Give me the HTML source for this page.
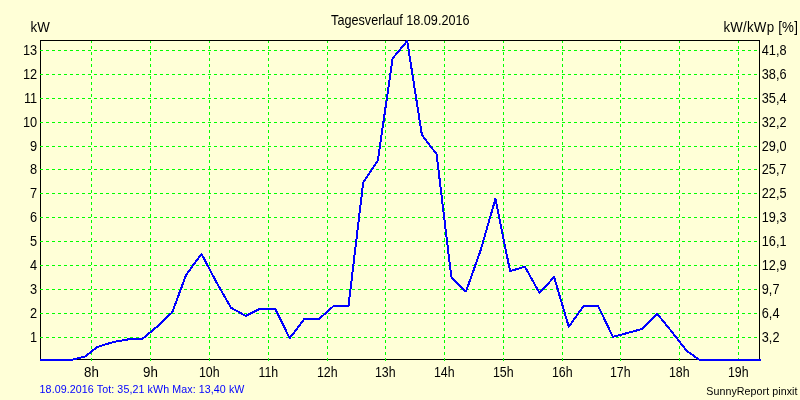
<!DOCTYPE html>
<html><head><meta charset="utf-8"><title>Tagesverlauf 18.09.2016</title>
<style>
html,body{margin:0;padding:0;background:#FFFFD7;}
svg{display:block;will-change:transform;}
text{font-family:"Liberation Sans",sans-serif;fill:#000;}
</style></head><body>
<svg width="800" height="400" viewBox="0 0 800 400">
<rect x="0" y="0" width="800" height="400" fill="#FFFFD7"/>
<rect x="40.5" y="40.5" width="719" height="319" fill="none" stroke="#000" stroke-width="1" shape-rendering="crispEdges"/>
<g shape-rendering="crispEdges" stroke="#00FF00" stroke-width="1" stroke-dasharray="3 3" fill="none">
<line x1="40" y1="337.5" x2="760" y2="337.5"/>
<line x1="40" y1="313.5" x2="760" y2="313.5"/>
<line x1="40" y1="289.5" x2="760" y2="289.5"/>
<line x1="40" y1="265.5" x2="760" y2="265.5"/>
<line x1="40" y1="241.5" x2="760" y2="241.5"/>
<line x1="40" y1="217.5" x2="760" y2="217.5"/>
<line x1="40" y1="193.5" x2="760" y2="193.5"/>
<line x1="40" y1="169.5" x2="760" y2="169.5"/>
<line x1="40" y1="146.5" x2="760" y2="146.5"/>
<line x1="40" y1="122.5" x2="760" y2="122.5"/>
<line x1="40" y1="98.5" x2="760" y2="98.5"/>
<line x1="40" y1="74.5" x2="760" y2="74.5"/>
<line x1="40" y1="50.5" x2="760" y2="50.5"/>
<line x1="91.5" y1="361" x2="91.5" y2="41"/>
<line x1="150.5" y1="361" x2="150.5" y2="41"/>
<line x1="209.5" y1="361" x2="209.5" y2="41"/>
<line x1="268.5" y1="361" x2="268.5" y2="41"/>
<line x1="327.5" y1="361" x2="327.5" y2="41"/>
<line x1="385.5" y1="361" x2="385.5" y2="41"/>
<line x1="444.5" y1="361" x2="444.5" y2="41"/>
<line x1="503.5" y1="361" x2="503.5" y2="41"/>
<line x1="562.5" y1="361" x2="562.5" y2="41"/>
<line x1="620.5" y1="361" x2="620.5" y2="41"/>
<line x1="679.5" y1="361" x2="679.5" y2="41"/>
<line x1="738.5" y1="361" x2="738.5" y2="41"/>
</g>
<polyline points="40.0,360.0 54.7,360.0 71.5,360.0 85.4,356.4 97.4,346.9 113.5,342.0 128.1,339.4 142.8,338.5 157.5,326.3 172.2,312.3 186.3,274.5 201.6,254.0 216.3,282.0 231.0,307.7 245.7,315.9 260.4,308.5 275.0,308.5 289.7,338.2 304.4,318.9 319.1,318.9 333.8,305.9 348.5,305.9 363.2,182.4 377.9,160.4 392.6,58.4 407.2,41.0 421.9,135.0 436.6,154.2 451.3,276.9 466.0,291.6 480.7,250.0 495.4,198.9 510.1,271.2 524.8,266.6 539.5,292.9 554.1,277.1 568.8,326.8 583.5,306.1 598.2,306.1 612.9,336.9 627.6,332.9 642.3,328.9 657.0,313.6 671.7,331.6 686.4,350.5 699.6,360.0 715.7,360.0 730.4,360.0 745.1,360.0 761.0,360.0" fill="none" stroke="#0000FF" stroke-width="2" stroke-linejoin="round" shape-rendering="crispEdges"/>
<text transform="translate(37.2 342) scale(0.96 1.03)" text-anchor="end" style="font-size:13.33px;">1</text>
<text transform="translate(37.2 318) scale(0.96 1.03)" text-anchor="end" style="font-size:13.33px;">2</text>
<text transform="translate(37.2 294) scale(0.96 1.03)" text-anchor="end" style="font-size:13.33px;">3</text>
<text transform="translate(37.2 270) scale(0.96 1.03)" text-anchor="end" style="font-size:13.33px;">4</text>
<text transform="translate(37.2 246) scale(0.96 1.03)" text-anchor="end" style="font-size:13.33px;">5</text>
<text transform="translate(37.2 222) scale(0.96 1.03)" text-anchor="end" style="font-size:13.33px;">6</text>
<text transform="translate(37.2 198) scale(0.96 1.03)" text-anchor="end" style="font-size:13.33px;">7</text>
<text transform="translate(37.2 174) scale(0.96 1.03)" text-anchor="end" style="font-size:13.33px;">8</text>
<text transform="translate(37.2 151) scale(0.96 1.03)" text-anchor="end" style="font-size:13.33px;">9</text>
<text transform="translate(37.2 127) scale(0.96 1.03)" text-anchor="end" style="font-size:13.33px;">10</text>
<text transform="translate(37.2 103) scale(0.96 1.03)" text-anchor="end" style="font-size:13.33px;">11</text>
<text transform="translate(37.2 79) scale(0.96 1.03)" text-anchor="end" style="font-size:13.33px;">12</text>
<text transform="translate(37.2 55) scale(0.96 1.03)" text-anchor="end" style="font-size:13.33px;">13</text>
<text transform="translate(761.8 342) scale(0.955 1.03)" text-anchor="start" style="font-size:13.33px;">3,2</text>
<text transform="translate(761.8 318) scale(0.955 1.03)" text-anchor="start" style="font-size:13.33px;">6,4</text>
<text transform="translate(761.8 294) scale(0.955 1.03)" text-anchor="start" style="font-size:13.33px;">9,7</text>
<text transform="translate(761.8 270) scale(0.955 1.03)" text-anchor="start" style="font-size:13.33px;">12,9</text>
<text transform="translate(761.8 246) scale(0.955 1.03)" text-anchor="start" style="font-size:13.33px;">16,1</text>
<text transform="translate(761.8 222) scale(0.955 1.03)" text-anchor="start" style="font-size:13.33px;">19,3</text>
<text transform="translate(761.8 198) scale(0.955 1.03)" text-anchor="start" style="font-size:13.33px;">22,5</text>
<text transform="translate(761.8 174) scale(0.955 1.03)" text-anchor="start" style="font-size:13.33px;">25,7</text>
<text transform="translate(761.8 151) scale(0.955 1.03)" text-anchor="start" style="font-size:13.33px;">29,0</text>
<text transform="translate(761.8 127) scale(0.955 1.03)" text-anchor="start" style="font-size:13.33px;">32,2</text>
<text transform="translate(761.8 103) scale(0.955 1.03)" text-anchor="start" style="font-size:13.33px;">35,4</text>
<text transform="translate(761.8 79) scale(0.955 1.03)" text-anchor="start" style="font-size:13.33px;">38,6</text>
<text transform="translate(761.8 55) scale(0.955 1.03)" text-anchor="start" style="font-size:13.33px;">41,8</text>
<text transform="translate(91.5 377) scale(1 1.07)" text-anchor="middle" style="font-size:13.33px;">8h</text>
<text transform="translate(150.5 377) scale(1 1.07)" text-anchor="middle" style="font-size:13.33px;">9h</text>
<text transform="translate(209.3 377) scale(0.93 1.07)" text-anchor="middle" style="font-size:13.33px;">10h</text>
<text transform="translate(268.3 377) scale(0.93 1.07)" text-anchor="middle" style="font-size:13.33px;">11h</text>
<text transform="translate(327.3 377) scale(0.93 1.07)" text-anchor="middle" style="font-size:13.33px;">12h</text>
<text transform="translate(385.3 377) scale(0.93 1.07)" text-anchor="middle" style="font-size:13.33px;">13h</text>
<text transform="translate(444.3 377) scale(0.93 1.07)" text-anchor="middle" style="font-size:13.33px;">14h</text>
<text transform="translate(503.3 377) scale(0.93 1.07)" text-anchor="middle" style="font-size:13.33px;">15h</text>
<text transform="translate(562.3 377) scale(0.93 1.07)" text-anchor="middle" style="font-size:13.33px;">16h</text>
<text transform="translate(620.3 377) scale(0.93 1.07)" text-anchor="middle" style="font-size:13.33px;">17h</text>
<text transform="translate(679.3 377) scale(0.93 1.07)" text-anchor="middle" style="font-size:13.33px;">18h</text>
<text transform="translate(738.3 377) scale(0.93 1.07)" text-anchor="middle" style="font-size:13.33px;">19h</text>
<text transform="translate(30.5 32) scale(1 1.08)" text-anchor="start" style="font-size:13.33px;">kW</text>
<text transform="translate(723.4 32) scale(1 1.08)" text-anchor="start" style="font-size:13.33px;letter-spacing:0.22px;">kW/kWp [%]</text>
<text transform="translate(400.3 25) scale(1 1.12)" text-anchor="middle" style="font-size:12.65px;">Tagesverlauf 18.09.2016</text>
<text transform="translate(39.6 393) scale(1 1.03)" text-anchor="start" style="font-size:10.67px;letter-spacing:0.09px;fill:#0000FF;">18.09.2016 Tot: 35,21 kWh Max: 13,40 kW</text>
<text transform="translate(797.5 394.8) scale(1 1.03)" text-anchor="end" style="font-size:10.67px;letter-spacing:0.06px;">SunnyReport pinxit</text>
</svg></body></html>
